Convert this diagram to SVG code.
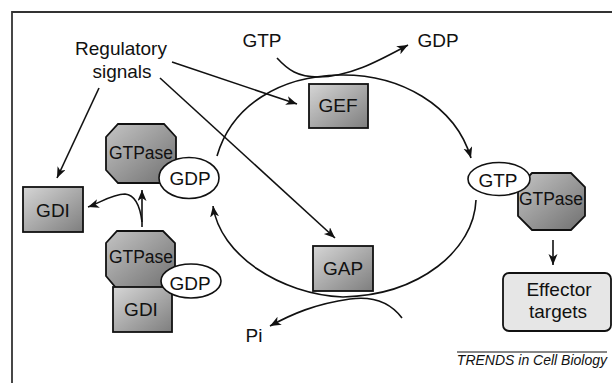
<svg xmlns="http://www.w3.org/2000/svg" width="612" height="383" viewBox="0 0 612 383">
<style>
text{font-family:"Liberation Sans",Arial,sans-serif;font-size:19px;fill:#111;text-anchor:middle}
.box{fill:url(#g);stroke:#111;stroke-width:1.8}
.oct{fill:url(#g2);stroke:#111;stroke-width:1.8}
.ell{fill:#fff;stroke:#111;stroke-width:1.6}
.ln{fill:none;stroke:#111;stroke-width:1.6}
.ar{marker-end:url(#ah)}
</style>
<defs>
<linearGradient id="g" x1="0" y1="0" x2="1" y2="1">
<stop offset="0" stop-color="#d6d6d6"/>
<stop offset="1" stop-color="#7e7e7e"/>
</linearGradient>
<linearGradient id="g2" x1="0" y1="0" x2="1" y2="1">
<stop offset="0" stop-color="#c4c4c4"/>
<stop offset="1" stop-color="#707070"/>
</linearGradient>
<marker id="ah" markerUnits="userSpaceOnUse" markerWidth="12" markerHeight="10" refX="11" refY="4.5" orient="auto">
<path d="M0,0 L11,4.5 L0,9 L3,4.5 z" fill="#111"/>
</marker>
</defs>
<rect width="612" height="383" fill="#fff"/>
<path d="M12,383 L12,12 L612,12" fill="none" stroke="#333" stroke-width="1.8"/>

<g id="connectors">
<path class="ln ar" d="M217,156 C232,105 280,76 340,75 C400,74 455,105 471,158"/>
<path class="ln ar" d="M476,200 C474,250 420,295 343,297 C280,294 220,255 213,206"/>
<path class="ln ar" d="M277,58 C288,70 298,77 318,77 C350,77 380,60 408,45"/>
<path class="ln ar" d="M402,318 C390,302 372,296 350,299 C315,304 292,314 270,326"/>
<path class="ln ar" d="M172,62 L297,104"/>
<path class="ln ar" d="M160,78 L335,238"/>
<path class="ln ar" d="M99,88 L57,178"/>
<path class="ln ar" d="M142,227 L142,190"/>
<path class="ln ar" d="M142,222 C140,205 135,195 125,194 C112,194 100,203 88,207"/>
<path class="ln ar" d="M553,240 L553,265"/>
</g>

<g id="regulatory-signals">
<text x="121" y="55">Regulatory</text>
<text x="122" y="78">signals</text>
</g>
<g id="gtp-in"><text x="262" y="47">GTP</text></g>
<g id="gdp-out"><text x="438" y="47">GDP</text></g>
<g id="pi"><text x="254" y="342">Pi</text></g>

<g id="gef">
<rect class="box" x="309" y="84" width="59" height="44"/>
<text x="338" y="112">GEF</text>
</g>
<g id="gap">
<rect class="box" x="313" y="246" width="60" height="45"/>
<text x="343" y="275">GAP</text>
</g>
<g id="gdi">
<rect class="box" x="23" y="187" width="60" height="45"/>
<text x="53" y="217">GDI</text>
</g>

<g id="gtpase-gdp">
<polygon class="oct" points="118,124 164,124 176,137 176,170 164,183 118,183 106,170 106,137"/>
<text x="141" y="159" style="font-size:17.5px">GTPase</text>
<ellipse class="ell" cx="189" cy="178" rx="30" ry="20.5"/>
<text x="190" y="185">GDP</text>
</g>

<g id="gtpase-gdp-gdi">
<polygon class="oct" points="117,231 163,231 175,243 175,276 163,289 117,289 106,276 106,243"/>
<text x="141" y="263" style="font-size:17.5px">GTPase</text>
<rect class="box" x="113" y="287" width="59" height="45"/>
<text x="141" y="316">GDI</text>
<ellipse class="ell" cx="191" cy="281" rx="30" ry="17"/>
<text x="190" y="290">GDP</text>
</g>

<g id="gtp-gtpase">
<polygon class="oct" points="532,173 571,173 585,187 585,216 571,230 532,230 518,216 518,187"/>
<text x="551" y="205" style="font-size:17.5px">GTPase</text>
<ellipse class="ell" cx="499" cy="179" rx="31" ry="16.5"/>
<text x="498" y="187">GTP</text>
</g>

<g id="effector">
<rect x="503" y="273" width="108" height="58" rx="6" fill="#e6e6e6" stroke="#111" stroke-width="1.8"/>
<text x="559" y="296">Effector</text>
<text x="558" y="318">targets</text>
</g>

<g id="credit">
<line x1="457" y1="352" x2="607" y2="352" stroke="#111" stroke-width="1.2"/>
<text x="607" y="365" style="font-size:14px;font-style:italic;text-anchor:end">TRENDS in Cell Biology</text>
</g>
</svg>
